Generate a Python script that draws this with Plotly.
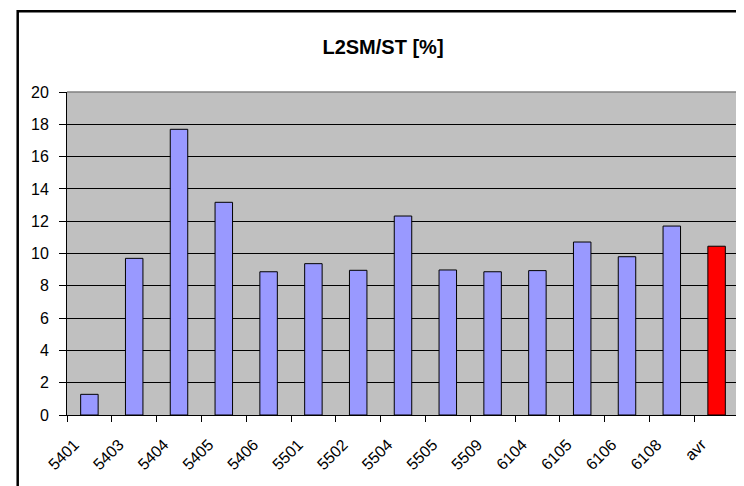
import plotly.graph_objects as go

categories = ["5401", "5403", "5404", "5405", "5406", "5501", "5502", "5504",
              "5505", "5509", "6104", "6105", "6106", "6108", "avr"]
values = [1.28, 9.70, 17.69, 13.17, 8.87, 9.37, 8.96, 12.32,
          8.98, 8.87, 8.94, 10.71, 9.80, 11.70, 10.45]
bar_colors = ["#9999FF"] * 14 + ["#FF0000"]
y_ticks = [0, 2, 4, 6, 8, 10, 12, 14, 16, 18, 20]
title_text = "L2SM/ST [%]"

# page is rendered with the browser's default 8px body margin
OFF = 8
W, H = 744 - OFF, 486 - OFF
L, R, T, B = 67 - OFF, 739 - OFF, 92 - OFF, 415 - OFF
pw, ph = R - L, B - T

def px_x(x):
    return (x - OFF - L) / pw

def px_y(y):
    return (B - (y - OFF)) / ph

FONT = "Liberation Sans, Arial, sans-serif"

fig = go.Figure()
fig.add_trace(go.Bar(
    x=categories, y=values,
    marker=dict(color=bar_colors, line=dict(color="#000000", width=1)),
    width=0.39,
))
# invisible twin trace only to carry the boundary tick marks on xaxis2
fig.add_trace(go.Bar(
    x=categories, y=values, xaxis="x2", opacity=0, hoverinfo="skip",
    marker=dict(color=bar_colors), width=0.39,
))

fig.update_layout(
    width=W, height=H,
    margin=dict(l=L, r=W - R, t=T, b=H - B, autoexpand=False),
    paper_bgcolor="#FFFFFF",
    plot_bgcolor="#C0C0C0",
    showlegend=False,
    font=dict(family=FONT, size=16, color="#000000"),
    title=dict(text="<b>" + title_text + "</b>", x=(383 - OFF) / W, xanchor="center",
               y=1 - (46.5 - OFF) / H, yanchor="middle", yref="container",
               font=dict(family=FONT, size=20, color="#000000")),
    xaxis=dict(
        type="category", tickson="boundaries", ticks="", tickangle=-45,
        showline=True, linecolor="#000000", linewidth=1,
        showgrid=False, tickfont=dict(size=16), automargin=False,
        ticklabelstandoff=13, ticklabelshift=-15,
    ),
    xaxis2=dict(
        type="category", overlaying="x", matches="x", anchor="y", side="bottom",
        tickson="boundaries", ticks="outside", ticklen=6,
        tickcolor="#000000", tickwidth=1, showticklabels=False,
        showline=False, showgrid=False, automargin=False,
    ),
    yaxis=dict(
        range=[0, 20], tickvals=y_ticks, ticks="outside", ticklen=7,
        tickcolor="#000000", tickwidth=1,
        showline=True, linecolor="#000000", linewidth=1,
        showgrid=True, gridcolor="#000000", gridwidth=1,
        zeroline=False, tickfont=dict(size=16), automargin=False,
        ticklabelstandoff=7,
    ),
    shapes=[
        dict(type="line", xref="paper", yref="paper", x0=0, x1=1, y0=1, y1=1,
             line=dict(color="#808080", width=1.5)),
        dict(type="line", xref="paper", yref="paper", x0=1, x1=1, y0=0, y1=1,
             line=dict(color="#808080", width=1.5)),
        dict(type="rect", xref="paper", yref="paper",
             x0=px_x(17.7), x1=px_x(744 + 20), y0=px_y(486 + 20), y1=px_y(11.2),
             line=dict(color="#000000", width=2.5), fillcolor="rgba(0,0,0,0)"),
    ],
)

fig.write_html("out.html")
